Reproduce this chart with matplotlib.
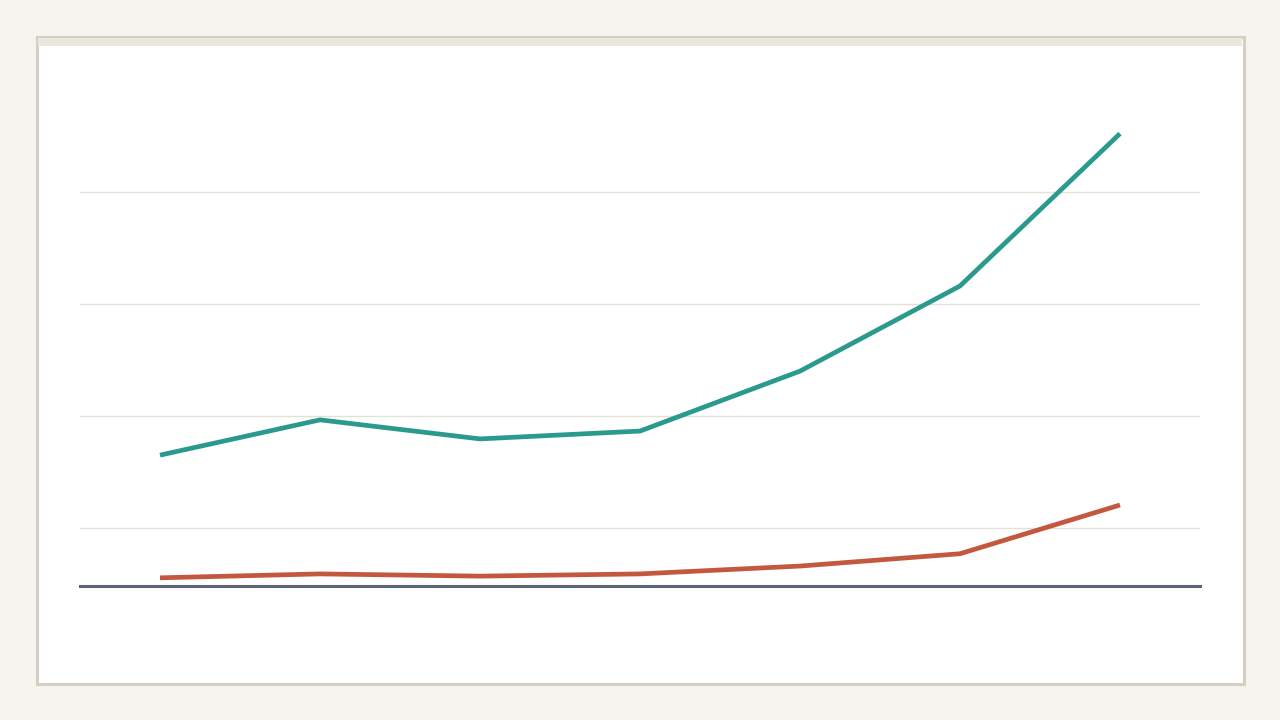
import numpy as np
import matplotlib.pyplot as plt
from matplotlib.patches import Rectangle

# Data (no labels shown in the chart)
periods = np.arange(7)
series_teal = [33.0, 39.3, 35.9, 37.3, 48.0, 63.2, 90.4]
series_red = [11.1, 11.8, 11.4, 11.8, 13.2, 15.4, 24.1]
grid_values = [20, 40, 60, 80]

PAGE = "#f5f4ef"
CARD_EDGE = "#d3cfc4"
STRIP = "#ebe7de"
GRID = "#e3e1d6"
BASE = "#5a6474"
TEAL = "#2a9a8f"
RED = "#c4583f"

fig = plt.figure(figsize=(12.8, 7.2), dpi=100)
fig.patch.set_facecolor(PAGE)

# Card background, drawn in pixel coordinates
bg = fig.add_axes([0, 0, 1, 1])
bg.set_xlim(0, 1280)
bg.set_ylim(720, 0)
bg.axis("off")
bg.add_patch(Rectangle((36.5, 36.5), 1207, 647, facecolor="white",
                       edgecolor=CARD_EDGE, linewidth=2.2))
bg.add_patch(Rectangle((38, 38), 1204, 8, facecolor=STRIP, edgecolor="none"))

ax = fig.add_axes([80 / 1280, 134 / 720, 1120 / 1280, 486 / 720])
ax.set_facecolor("none")

ax.plot(periods, series_teal, color=TEAL, linewidth=3.4,
        solid_capstyle="butt", zorder=3)
ax.plot(periods, series_red, color=RED, linewidth=3.4,
        solid_capstyle="butt", zorder=3)

ax.set_xlim(-0.5, 6.5)
ax.set_ylim(9.64, 96.4)
ax.set_yticks(grid_values)
ax.set_xticks([])
ax.tick_params(left=False, labelleft=False)
ax.grid(axis="y", color=GRID, linewidth=1.0)
ax.set_axisbelow(True)

for side in ["top", "right", "left"]:
    ax.spines[side].set_visible(False)
ax.spines["bottom"].set_color(BASE)
ax.spines["bottom"].set_linewidth(2.2)

fig.savefig("out.png", dpi=100, facecolor=fig.get_facecolor())
